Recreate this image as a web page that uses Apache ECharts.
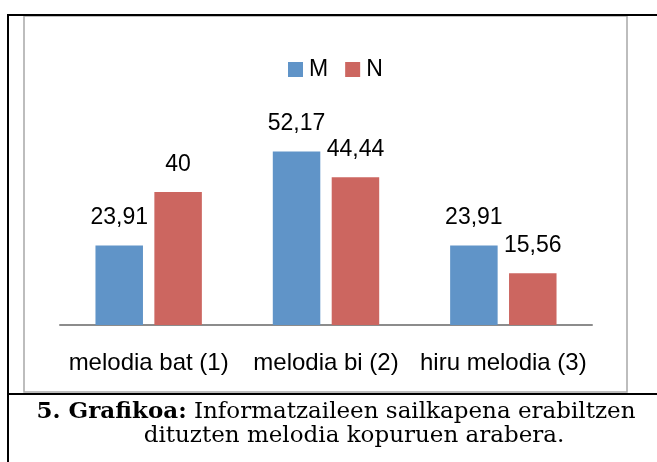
<!DOCTYPE html>
<html>
<head>
<meta charset="utf-8">
<script src="https://cdn.jsdelivr.net/npm/echarts@6/dist/echarts.min.js"></script>
<style>
  html, body { margin: 0; padding: 0; background: #fff; }
  #main { width: 657px; height: 462px; }
</style>
</head>
<body>
<div id="main"></div>
<script>
  // datuak
  var categories = ['melodia bat (1)', 'melodia bi (2)', 'hiru melodia (3)']
  var seriesNames = ['M', 'N']
  var valuesM = [23.91, 52.17, 23.91]
  var valuesN = [40, 44.44, 15.56]

  var myChart = echarts.init(document.getElementById('main'))

  var sans = 'Liberation Sans'
  var serif = 'DejaVu Serif'

  // balioak koma hamartarrarekin
  function comma(p) {
    return String(p.value).replace('.', ',')
  }

  var option = {
    animation: false,
    color: ['#6094c8', '#cc6660'],
    legend: {
      data: seriesNames,
      left: 283,
      top: 53,
      itemWidth: 15,
      itemHeight: 15,
      itemGap: 17,
      icon: 'rect',
      textStyle: { fontFamily: sans, fontSize: 23, color: '#000', padding: [0, 0, 0, 1] }
    },
    grid: { left: 60, right: 65, top: 125.6, bottom: 137 },
    xAxis: {
      type: 'category',
      data: categories,
      axisLine: { lineStyle: { color: '#8c8c8c', width: 2 } },
      axisTick: { show: false },
      axisLabel: { interval: 0, hideOverlap: false, fontFamily: sans, fontSize: 24, color: '#000', margin: 26 }
    },
    yAxis: {
      type: 'value',
      min: 0,
      max: 60,
      show: false,
      splitLine: { show: false }
    },
    series: [
      {
        name: 'M',
        type: 'bar',
        data: valuesM,
        barWidth: 47.5,
        barGap: '24%',
        label: { show: true, position: 'top', distance: 16, formatter: comma, fontFamily: sans, fontSize: 23, color: '#000' }
      },
      {
        name: 'N',
        type: 'bar',
        data: valuesN,
        barWidth: 47.5,
        label: { show: true, position: 'top', distance: 16, formatter: comma, fontFamily: sans, fontSize: 23, color: '#000' }
      }
    ],
    graphic: [
      // grafikoaren koadroa
      { type: 'rect', shape: { x: 24, y: 16, width: 603, height: 376 }, style: { fill: 'none', stroke: '#a8a8a8', lineWidth: 1.5 }, z: -1 },
      // taularen marrak
      { type: 'line', shape: { x1: 7, y1: 15, x2: 657, y2: 15 }, style: { stroke: '#000', lineWidth: 2 } },
      { type: 'line', shape: { x1: 8, y1: 15, x2: 8, y2: 462 }, style: { stroke: '#000', lineWidth: 2 } },
      { type: 'line', shape: { x1: 7, y1: 394, x2: 657, y2: 394 }, style: { stroke: '#000', lineWidth: 2 } },
      // oina
      {
        type: 'text', x: 336, y: 424,
        style: {
          text: '{b|5. Grafikoa:} Informatzaileen sailkapena erabiltzen',
          align: 'center', verticalAlign: 'bottom',
          font: '23px "DejaVu Serif"', fill: '#000',
          rich: { b: { fontFamily: serif, fontSize: 23, fontWeight: 'bold' } }
        }
      },
      {
        type: 'text', x: 354, y: 448,
        style: {
          text: 'dituzten melodia kopuruen arabera.',
          align: 'center', verticalAlign: 'bottom',
          font: '23px "DejaVu Serif"', fill: '#000'
        }
      }
    ]
  }

  myChart.setOption(option)
</script>
</body>
</html>
